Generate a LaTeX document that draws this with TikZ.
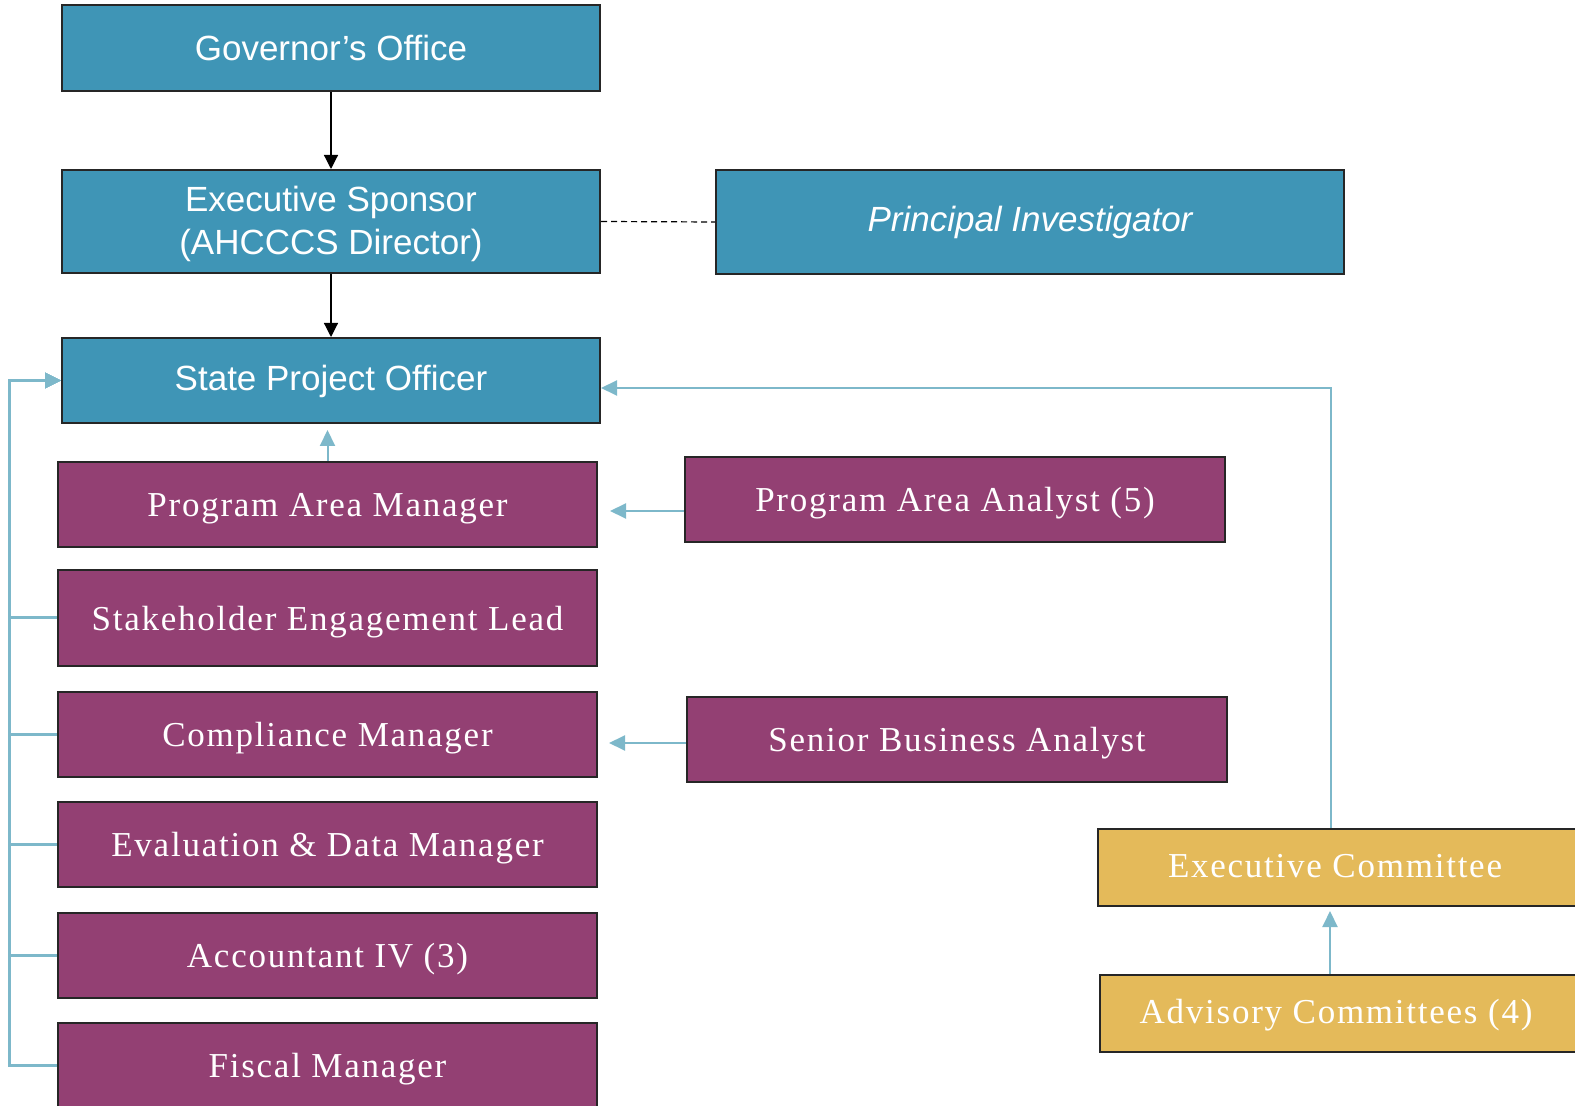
\documentclass[tikz,border=0pt]{standalone}
\usepackage{fontspec}
\setmainfont{Liberation Serif}
\newfontfamily\arialfont{Liberation Sans}
\newfontfamily\spacedfont[LetterSpace=5]{Liberation Serif}
\usetikzlibrary{arrows.meta}

\definecolor{tealbox}{RGB}{63,149,182}
\definecolor{plumbox}{RGB}{147,64,115}
\definecolor{goldbox}{RGB}{228,186,90}
\definecolor{lineblue}{RGB}{125,184,202}

\tikzset{
  box/.style={draw=black!85, line width=1pt, text=white, inner sep=0pt},
  bluebox/.style={box, fill=tealbox, align=center, font=\arialfont\fontsize{17.5}{21.5}\selectfont},
  plumnode/.style={box, fill=plumbox, minimum height=42.5pt, text height=14pt, text depth=1.7pt, font=\spacedfont\fontsize{17.5}{21}\selectfont},
  goldnode/.style={box, fill=goldbox, minimum height=38.5pt, text height=13pt, text depth=2.7pt, font=\spacedfont\fontsize{17.5}{21}\selectfont},
  blackarrow/.style={-{Triangle[length=7pt,width=7pt]}, line width=0.6pt},
  bluearrow/.style={-{Triangle[length=8pt,width=7.5pt]}, line width=1pt, draw=lineblue, color=lineblue},
}

\begin{document}
\begin{tikzpicture}[x=0.5pt,y=0.5pt,yscale=-1,xscale=1]
\useasboundingbox (0,0) rectangle (1575,1106);

%Shape: Rectangle [top row]
\node[bluebox, minimum width=269pt, minimum height=43pt] (gov) at (331,48) {Governor’s Office};
\node[bluebox, minimum width=269pt, minimum height=51.5pt] (sponsor) at (331,221.5) {\strut Executive Sponsor\\(AHCCCS Director)\rule{0pt}{0pt}\rule[-3pt]{0pt}{0pt}};
\node[bluebox, minimum width=314pt, minimum height=52pt, font=\arialfont\itshape\fontsize{17.5}{21.5}\selectfont] (pi) at (1030,222) {Principal Investigator};
\node[bluebox, minimum width=269pt, minimum height=42.5pt, text height=13pt, text depth=3pt] (spo) at (331,380.5) {State Project Officer};

%Shape: Rectangle [staff column]
\node[plumnode, minimum width=269.5pt] (pam) at (327.5,504.5) {Program Area Manager};
\node[plumnode, minimum width=269.5pt, minimum height=48pt] (sel) at (327.5,618) {Stakeholder Engagement Lead};
\node[plumnode, minimum width=269.5pt] (cm) at (327.5,734.5) {Compliance Manager};
\node[plumnode, minimum width=269.5pt] (edm) at (327.5,844.5) {Evaluation \& Data Manager};
\node[plumnode, minimum width=269.5pt] (acc) at (327.5,955.5) {Accountant IV (3)};
\node[plumnode, minimum width=269.5pt] (fm) at (327.5,1065.5) {Fiscal Manager};

%Shape: Rectangle [analysts]
\node[plumnode, minimum width=270pt] (paa) at (955,499.5) {Program Area Analyst (5)};
\node[plumnode, minimum width=270pt] (sba) at (957,739.5) {Senior Business Analyst};

%Shape: Rectangle [committees]
\node[goldnode, minimum width=251pt] (exc) at (1349,867.5) {\kern-14pt Executive Committee};
\node[goldnode, minimum width=250pt] (adv) at (1350,1013.5) {\kern-14pt Advisory Committees (4)};

%Straight Lines
\draw[blackarrow] (gov) -- (sponsor);
\draw[blackarrow] (sponsor) -- (spo);
\draw[line width=0.6pt, dash pattern=on 3pt off 2pt] (sponsor.east) -- (pi.west);

\draw[bluearrow, shorten >=3pt] (pam.north) -- (pam.north |- spo.south);
\draw[bluearrow, shorten >=6pt] ([yshift=5.75pt]paa.west) -- ([yshift=5.75pt]paa.west -| pam.east);
\draw[bluearrow, shorten >=5.5pt] ([yshift=1.75pt]sba.west) -- ([yshift=1.75pt]sba.west -| cm.east);
\draw[bluearrow] ([xshift=-9pt]exc.north) |- ([yshift=3.75pt]spo.east);
\draw[bluearrow, shorten >=2pt] ([xshift=-10pt]adv.north) -- ([xshift=-10pt]adv.north |- exc.south);

%Left bus
\foreach \n in {sel,cm,edm,acc,fm}
  \draw[bluearrow, line width=1.5pt] (\n.west) -- ++(-24pt,0) |- (spo.west);

\end{tikzpicture}
\end{document}
